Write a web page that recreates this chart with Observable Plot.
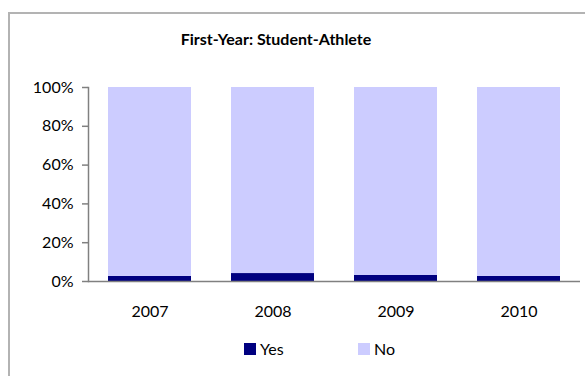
<!DOCTYPE html>
<html>
<head>
<meta charset="utf-8">
<script src="https://cdn.jsdelivr.net/npm/d3@7"></script>
<script src="https://cdn.jsdelivr.net/npm/@observablehq/plot@0.6"></script>
<style>
  html, body { margin: 0; padding: 0; background: #fff; }
  body { width: 585px; height: 376px; position: relative; overflow: hidden; font-family: Lato, "Open Sans", sans-serif; }
  #frame { position: absolute; left: 8px; top: 12px; width: 600px; height: 400px; border-left: 2px solid #b3b3b3; border-top: 2px solid #b3b3b3; box-sizing: border-box; }
  #title { position: absolute; left: 0; width: 552px; top: 29px; text-align: center; font-weight: bold; font-size: 16px; color: #000; }
  #chart { position: absolute; left: 0; top: 60px; }
  #legend { position: absolute; top: 339px; left: 0; width: 585px; font-size: 16px; color: #000; }
  .li { position: absolute; display: flex; align-items: center; }
  .sw { width: 12px; height: 12px; margin-right: 4px; }
</style>
</head>
<body>
<div id="frame"></div>
<div id="title">First-Year: Student-Athlete</div>
<div id="chart"></div>
<div id="legend"></div>
<script>
const years = ["2007", "2008", "2009", "2010"];
const answers = ["Yes", "No"];
const yesPct = [2.6, 4.1, 3.1, 2.6];
const noPct = [97.4, 95.9, 96.9, 97.4];
const colors = ["#000080", "#CCCCFF"];
const yTicks = [0, 20, 40, 60, 80, 100];

const data = [];
years.forEach((y, i) => {
  data.push({year: y, answer: "Yes", value: yesPct[i]});
  data.push({year: y, answer: "No", value: noPct[i]});
});

const chart = Plot.plot({
  width: 585,
  height: 265,
  marginLeft: 88,
  marginRight: 5,
  marginTop: 27,
  marginBottom: 44,
  style: {fontFamily: "Lato, 'Open Sans', sans-serif", fontSize: "16px", color: "#000", background: "transparent"},
  x: {domain: years, paddingInner: 0.325, paddingOuter: 0.1625, label: null},
  y: {domain: [0, 100], label: null},
  color: {domain: answers, range: colors},
  marks: [
    Plot.barY(data, Plot.stackY({order: answers}, {x: "year", y: "value", fill: "answer"})),
    Plot.axisY({ticks: yTicks, tickFormat: d => d + "%", tickSize: 6, tickPadding: 9, stroke: "#808080", strokeWidth: 1.5, label: null, fill: "#000"}),
    Plot.axisX({tickSize: 0, tickPadding: 24, label: null, fill: "#000"}),
    Plot.frame({anchor: "left", stroke: "#808080", strokeWidth: 1.5}),
    Plot.ruleY([0], {stroke: "#808080", strokeWidth: 1.5})
  ]
});
document.getElementById("chart").appendChild(chart);

const legend = document.getElementById("legend");
const legendX = [244, 358];
answers.forEach((a, i) => {
  const item = document.createElement("div");
  item.className = "li";
  item.style.left = legendX[i] + "px";
  const sw = document.createElement("div");
  sw.className = "sw";
  sw.style.background = colors[i];
  const t = document.createElement("span");
  t.textContent = a;
  item.appendChild(sw);
  item.appendChild(t);
  legend.appendChild(item);
});
</script>
</body>
</html>
